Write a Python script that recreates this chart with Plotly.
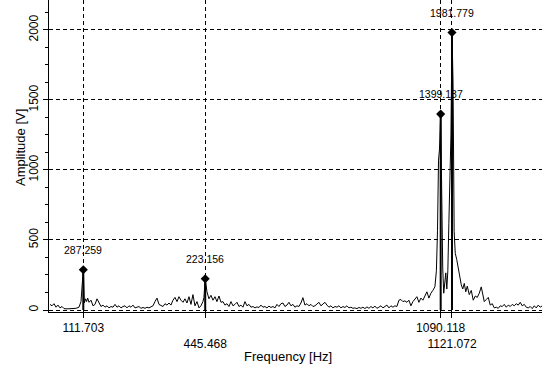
import plotly.graph_objects as go

# Spectrum (frequency in Hz, amplitude in V)
FREQ = [20.6, 26.0, 31.5, 37.0, 42.4, 47.9, 53.4, 58.9, 67.1, 75.3, 83.5, 91.7, 99.9, 105.4, 108.7,
        111.703, 114.7, 117.7, 120.7, 123.7, 127.3, 132.8, 138.2, 143.7, 149.2, 154.7, 160.1, 165.6,
        171.1, 176.6, 182.0, 187.5, 193.0, 198.5, 203.9, 209.4, 214.9, 220.4, 225.8, 231.3, 236.8,
        242.2, 247.7, 253.2, 258.7, 264.1, 269.6, 275.1, 280.6, 286.0, 291.5, 297.0, 302.5, 307.9,
        313.4, 318.9, 324.4, 329.8, 335.3, 340.8, 346.3, 351.7, 357.2, 362.7, 368.2, 373.6, 379.1,
        384.6, 390.0, 395.5, 401.0, 406.5, 411.9, 417.4, 422.9, 428.4, 433.8, 439.3, 442.0,
        445.468, 450.3, 455.7, 461.2, 466.7, 472.2, 477.6, 483.1, 488.6, 494.1, 499.5, 505.0, 510.5,
        516.0, 521.4, 526.9, 532.4, 537.8, 543.3, 548.8, 554.3, 559.7, 565.2, 570.7, 576.2, 581.6,
        587.1, 592.6, 598.1, 603.5, 609.0, 614.5, 620.0, 625.4, 630.9, 636.4, 641.9, 647.3, 652.8,
        658.3, 663.7, 669.2, 674.7, 680.2, 685.6, 691.1, 696.6, 702.1, 707.5, 713.0, 718.5, 724.0,
        729.4, 734.9, 740.4, 745.9, 751.3, 756.8, 762.3, 767.8, 773.2, 778.7, 784.2, 789.6, 795.1,
        800.6, 806.1, 811.5, 817.0, 822.5, 828.0, 833.4, 838.9, 844.4, 849.9, 855.3, 860.8, 866.3,
        871.8, 877.2, 882.7, 888.2, 893.7, 899.1, 904.6, 910.1, 915.5, 921.0, 926.5, 932.0, 937.4,
        942.9, 948.4, 953.9, 959.3, 964.8, 970.3, 975.8, 981.2, 986.7, 992.2, 997.7, 1003.1, 1008.6,
        1014.1, 1019.6, 1025.0, 1030.5, 1036.0, 1041.5, 1046.9, 1052.4, 1057.9, 1063.4, 1068.8,
        1074.3, 1078.4, 1081.4, 1084.2, 1086.9, 1090.118, 1092.9, 1095.7, 1098.5, 1101.3, 1104.1,
        1106.9, 1109.7, 1112.5, 1115.3, 1118.2, 1121.072, 1124.0, 1127.0, 1130.0, 1134.1, 1138.2,
        1142.4, 1146.5, 1150.6, 1154.7, 1158.8, 1162.9, 1168.4, 1173.8, 1179.3, 1184.8, 1190.3,
        1195.7, 1201.2, 1205.3, 1209.4, 1214.9, 1220.4, 1225.8, 1231.3, 1236.8, 1242.3, 1247.7,
        1253.2, 1258.7, 1264.2, 1269.6, 1275.1, 1280.6, 1286.0, 1291.5, 1297.0, 1302.5, 1307.9,
        1313.4, 1318.9, 1324.4, 1329.8, 1335.3, 1340.8, 1346.3, 1351.7, 1357.2, 1362.7, 1368.2]

AMP = [40, 30, 45, 20, 35, 15, 25, 10, 8, 8, 10, 12, 20, 60, 180,
       287.259, 50, 80, 60, 85, 55, 70, 30, 40, 80, 50, 25, 35,
       20, 30, 15, 25, 20, 40, 20, 30, 15, 25, 30, 15, 30,
       20, 35, 15, 20, 25, 12, 18, 12, 20, 15, 25, 30, 60,
       85, 40, 35, 25, 45, 35, 50, 35, 70, 90, 60, 95, 70,
       55, 80, 50, 95, 40, 110, 30, 60, 15, 30, 60, 90,
       223.156, 130, 80, 105, 70, 95, 60, 100, 55, 60, 35, 45, 25,
       60, 30, 40, 55, 25, 35, 20, 60, 30, 40, 20, 25, 15,
       22, 18, 35, 20, 25, 15, 28, 18, 25, 15, 40, 25, 45,
       50, 25, 35, 55, 30, 40, 20, 30, 25, 50, 88, 35, 45,
       30, 40, 25, 30, 45, 55, 30, 40, 55, 35, 20, 30, 15,
       25, 20, 30, 15, 25, 18, 30, 15, 20, 12, 15, 10, 18,
       12, 20, 10, 22, 12, 25, 15, 28, 12, 20, 30, 15, 25,
       35, 15, 30, 20, 30, 25, 70, 75, 60, 65, 55, 70, 30,
       60, 75, 95, 55, 85, 70, 100, 130, 85, 120, 140,
       165, 280, 570, 1070, 1150, 1399.137, 800, 300, 120, 180, 265,
       150, 280, 620, 900, 1250, 1981.779, 1620, 560, 405, 360, 300,
       220, 180, 150, 190, 130, 170, 110, 140, 70, 100, 90,
       120, 165, 110, 60, 75, 90, 35, 45, 15, 20, 12,
       30, 25, 40, 20, 35, 25, 40, 30, 45, 35, 55,
       30, 40, 20, 15, 25, 10, 30, 15, 35, 20, 30]

# Marked peaks
PEAK_FREQ = [111.703, 445.468, 1090.118, 1121.072]
PEAK_AMP = [287.259, 223.156, 1399.137, 1981.779]

Y_TICKS = [0, 500, 1000, 1500, 2000]

FONT = "Liberation Sans, Arial, sans-serif"

fig = go.Figure()

fig.add_trace(go.Scatter(x=FREQ, y=AMP, mode="lines",
                         line=dict(color="black", width=1), hoverinfo="skip"))

stem_x, stem_y = [], []
for f, a in zip(PEAK_FREQ, PEAK_AMP):
    stem_x += [f, f, None]
    stem_y += [0, a, None]
fig.add_trace(go.Scatter(x=stem_x, y=stem_y, mode="lines",
                         line=dict(color="black", width=2), hoverinfo="skip"))

fig.add_trace(go.Scatter(x=PEAK_FREQ, y=PEAK_AMP, mode="markers",
                         marker=dict(symbol="diamond", size=7, color="black"),
                         hoverinfo="skip"))

annotations = []
for f, a in zip(PEAK_FREQ, PEAK_AMP):
    annotations.append(dict(x=f, y=a, xref="x", yref="y", text=f"{a:.3f}",
                            showarrow=False, yshift=20, xanchor="center", yanchor="middle",
                            font=dict(family=FONT, size=10.5, color="black")))

annotations.append(dict(x=(288 - 49) / 493, y=(312 - 356) / 312, xref="paper", yref="paper",
                        text="Frequency [Hz]", showarrow=False, xanchor="center",
                        yanchor="middle", font=dict(family=FONT, size=13, color="black")))
annotations.append(dict(x=(20 - 49) / 493, y=(312 - 148) / 312, xref="paper", yref="paper",
                        text="Amplitude [V]", showarrow=False, textangle=-90,
                        xanchor="center", yanchor="middle",
                        font=dict(family=FONT, size=13, color="black")))

tick_text = [(("<br>" if i % 2 else "") + f"{f:.3f}") for i, f in enumerate(PEAK_FREQ)]

fig.update_layout(
    width=542, height=369,
    margin=dict(l=49, r=0, t=0, b=57, autoexpand=False),
    paper_bgcolor="white", plot_bgcolor="white",
    showlegend=False,
    font=dict(family=FONT, size=12, color="black"),
    annotations=annotations,
    xaxis=dict(range=[17.8, 1367.5], tickmode="array", tickvals=PEAK_FREQ, ticktext=tick_text,
               tickangle=0, automargin=False,
               showline=True, linecolor="black", linewidth=1,
               ticks="outside", ticklen=5, tickcolor="black",
               showgrid=True, gridcolor="black", gridwidth=1, griddash="4px,3px",
               zeroline=False, tickfont=dict(family=FONT, size=12, color="black")),
    yaxis=dict(range=[-14.3, 2214], tickmode="array", tickvals=Y_TICKS,
               tickangle=-90, automargin=False,
               showline=True, linecolor="black", linewidth=1,
               ticks="outside", ticklen=5, tickcolor="black",
               minor=dict(tickmode="linear", tick0=0, dtick=125, ticks="outside",
                          ticklen=3, tickcolor="black", showgrid=False),
               showgrid=True, gridcolor="black", gridwidth=1, griddash="4px,3px",
               zeroline=False, tickfont=dict(family=FONT, size=12, color="black")),
)

fig.write_html("out.html", config={"displayModeBar": False},
               post_script="document.body.style.margin='0px';")
